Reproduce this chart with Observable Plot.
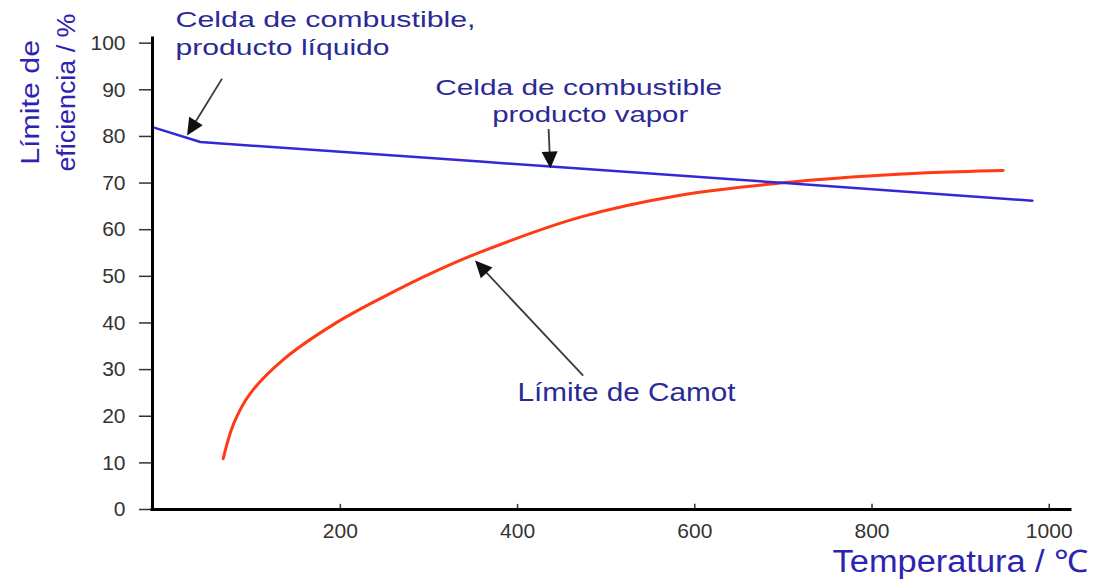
<!DOCTYPE html>
<html><head><meta charset="utf-8">
<script src="https://cdn.jsdelivr.net/npm/d3@7"></script>
<script src="https://cdn.jsdelivr.net/npm/@observablehq/plot@0.6"></script>
<style>html,body{margin:0;padding:0;background:#fff;}</style>
</head><body><div id="chart"></div>
<script>
// ---- data ----
const xTicks = [200, 400, 600, 800, 1000];
const yTicks = [0, 10, 20, 30, 40, 50, 60, 70, 80, 90, 100];

// Fuel cell (liquid product, then vapour product) efficiency limit
const vaporT   = [-12, 42, 358, 702, 981];
const vaporEff = [82.0, 78.8, 74.6, 70.0, 66.2];

// Carnot limit
const carnotT   = [67.8, 79.6, 98.4, 136, 192.4, 248.9, 305.3, 358, 470.8, 583.6, 696.5, 786.7, 862, 948];
const carnotEff = [10.9, 18.4, 24.9, 32.2, 39.7, 45.6, 50.9, 55.2, 62.7, 67.4, 70.0, 71.4, 72.2, 72.7];

// Annotations
const leftLabels = ["Celda de combustible,", "producto líquido"];
const leftLabelT = [14, 14];
const leftLabelEff = [103.4, 97.4];
const midLabels = ["Celda de combustible", "producto vapor"];
const midLabelT = [469, 482];
const midLabelEff = [88.8, 83.0];
const carnotLabel = "Límite de Camot";
const carnotLabelT = 400;
const carnotLabelEff = 23.2;

const arrowTailT = [66.5, 435, 474];
const arrowTailEff = [92.4, 81.6, 28.7];
const arrowTipT = [27, 437, 352];
const arrowTipEff = [80.2, 73.1, 53.4];

const xTitle = "Temperatura / ℃";
const xTitleT = 1044.4, xTitleEff = -13.5;
const yTitle = ["Límite de", "eficiencia / %"];
const yTitleT = [-140.6, -100];
const yTitleEff = [87.3, 89.4];

// ---- layout ----
const W = 1093, H = 579, mL = 152, mR = 23, mT = 38, mB = 70;
const xDomain = [-12, 1024], yDomain = [0, 101];
const xs = d3.scaleLinear(xDomain, [mL, W - mR]);
const ys = d3.scaleLinear(yDomain, [H - mB, mT]);

const vapor = vaporT.map((t, i) => ({t, e: vaporEff[i]}));
const carnot = carnotT.map((t, i) => ({t, e: carnotEff[i]}));

const headLen = 17;
const arrows = arrowTailT.map((_, i) => {
  const px1 = xs(arrowTailT[i]), py1 = ys(arrowTailEff[i]);
  const px2 = xs(arrowTipT[i]), py2 = ys(arrowTipEff[i]);
  const dx = px2 - px1, dy = py2 - py1, len = Math.hypot(dx, dy);
  const k = 1 - (headLen - 4) / len;
  return {
    x1: arrowTailT[i], y1: arrowTailEff[i],
    x2: arrowTipT[i], y2: arrowTipEff[i],
    xs2: xs.invert(px1 + dx * k), ys2: ys.invert(py1 + dy * k),
    angle: Math.atan2(dx, -dy) * 180 / Math.PI
  };
});

const annoColor = "#2b2a95";
const titleColor = "#2c24b0";

const chart = Plot.plot({
  width: W, height: H,
  marginLeft: mL, marginRight: mR, marginTop: mT, marginBottom: mB,
  x: {domain: xDomain},
  y: {domain: yDomain},
  style: {fontFamily: "'Liberation Sans', Arial, sans-serif", background: "white", color: "#333"},
  marks: [
    Plot.axisY({ticks: yTicks, tickSize: 13, tickPadding: 14, fontSize: 21, label: null, color: "#333", strokeWidth: 1.5, ariaLabel: "y-axis tick"}),
    Plot.axisX({ticks: xTicks, tickSize: 0, tickPadding: 14, fontSize: 21, label: null, color: "#333", tickFormat: d => String(d), ariaLabel: "x-axis tick"}),
    Plot.ruleX(xTicks, {y1: 0, y2: 1.1, stroke: "#333", strokeWidth: 1.5}),
    Plot.line(carnot, {x: "t", y: "e", stroke: "#ff3a14", strokeWidth: 3, curve: "catmull-rom"}),
    Plot.line(vapor, {x: "t", y: "e", stroke: "#3428d6", strokeWidth: 2.5}),
    Plot.ruleY([0], {x1: xDomain[0], x2: xDomain[1], stroke: "black", strokeWidth: 3, strokeLinecap: "square"}),
    Plot.ruleX([xDomain[0]], {y1: yDomain[0], y2: yDomain[1], stroke: "black", strokeWidth: 3, strokeLinecap: "square"}),
    Plot.link(arrows, {x1: "x1", y1: "y1", x2: "xs2", y2: "ys2", stroke: "#3a3a3a", strokeWidth: 1.8}),
    Plot.vector(arrows, {x: "x2", y: "y2", rotate: "angle", length: headLen, r: 8, shape: "spike", anchor: "end", fill: "#111", stroke: "none"}),
    Plot.text(leftLabels, {x: (d, i) => leftLabelT[i], y: (d, i) => leftLabelEff[i], text: d => d,
      textAnchor: "start", lineAnchor: "bottom", fontSize: 22, fill: annoColor}),
    Plot.text(midLabels, {x: (d, i) => midLabelT[i], y: (d, i) => midLabelEff[i], text: d => d,
      textAnchor: "middle", lineAnchor: "bottom", fontSize: 22, fill: annoColor}),
    Plot.text([carnotLabel], {x: () => carnotLabelT, y: () => carnotLabelEff, text: d => d,
      textAnchor: "start", lineAnchor: "bottom", fontSize: 25, fill: annoColor}),
    Plot.text([xTitle], {x: () => xTitleT, y: () => xTitleEff, text: d => d,
      textAnchor: "end", lineAnchor: "bottom", fontSize: 31, fill: titleColor}),
    Plot.text(yTitle, {x: (d, i) => yTitleT[i], y: (d, i) => yTitleEff[i], text: d => d,
      rotate: -90, textAnchor: "middle", lineAnchor: "bottom", fontSize: 25, fill: titleColor})
  ]
});

document.getElementById("chart").appendChild(chart);

// reference text is horizontally stretched: match its widths
const textWidths = new Map([
  ["Celda de combustible,", 300], ["producto líquido", 214],
  ["Celda de combustible", 287], ["producto vapor", 196],
  ["Límite de Camot", 218], ["Temperatura / ℃", 256],
  ["Límite de", 125], ["eficiencia / %", 158]
]);
d3.select(chart).selectAll("text").each(function() {
  const w = textWidths.get(this.textContent);
  if (w) { this.setAttribute("textLength", w); this.setAttribute("lengthAdjust", "spacingAndGlyphs"); }
});
// tick labels are a little wider than plain Arial too
d3.select(chart).selectAll('g[aria-label="y-axis tick"] text, g[aria-label="x-axis tick"] text').each(function() {
  const w = this.getComputedTextLength();
  if (w) { this.setAttribute("textLength", w * 1.12); this.setAttribute("lengthAdjust", "spacingAndGlyphs"); }
});
</script>
</body></html>
